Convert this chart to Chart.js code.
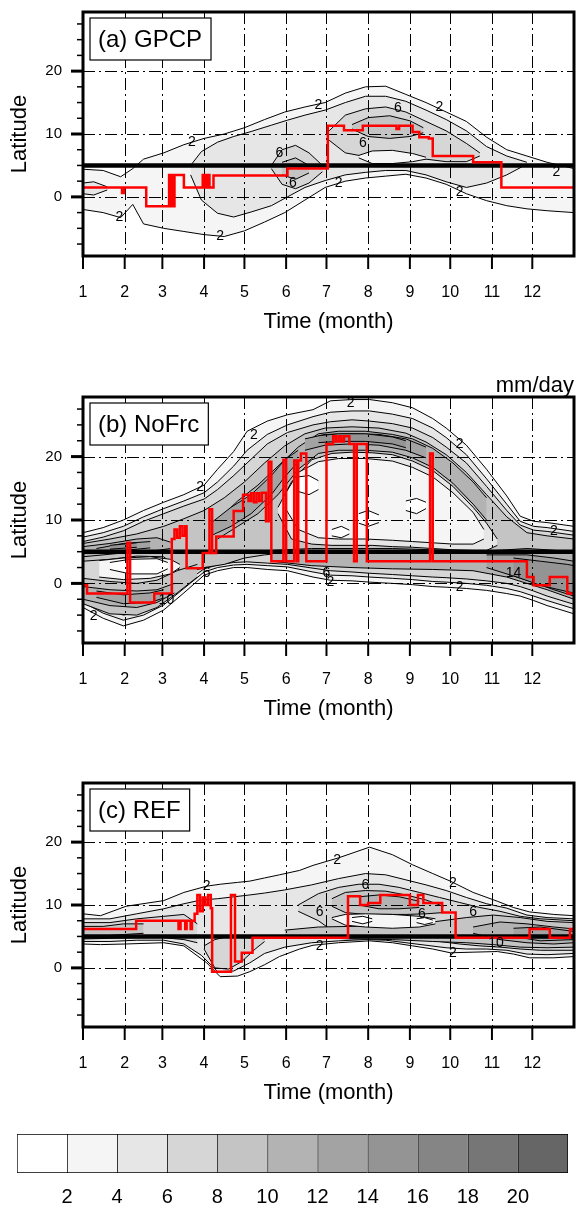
<!DOCTYPE html>
<html>
<head>
<meta charset="utf-8">
<script src="https://cdn.jsdelivr.net/npm/chart.js@4/dist/chart.umd.min.js"></script>
<style>
  body { margin: 0; background: #fff; width: 576px; height: 1208px; position: relative; overflow: hidden; }
  canvas { position: absolute; left: 0; }
</style>
</head>
<body>
<canvas id="panelA" style="top:0" width="576" height="345"></canvas>
<canvas id="panelB" style="top:345px" width="576" height="387"></canvas>
<canvas id="panelC" style="top:732px" width="576" height="384"></canvas>
<canvas id="colorBar" style="top:1116px" width="576" height="92"></canvas>
<script>
// axis ticks (x in day of year, labels are months)
var monthStart = [0, 31, 59, 90, 120, 151, 181, 212, 243, 273, 304, 334];
var monthLabels = ['1', '2', '3', '4', '5', '6', '7', '8', '9', '10', '11', '12'];
var latTicks = [0, 10, 20];
var latMinor = [-7.5, -5, -2.5, 2.5, 5, 7.5, 12.5, 15, 17.5, 22.5, 25, 27.5];
var shadeLevels = [2, 4, 6, 8, 10, 12, 14, 16, 18, 20];
var barEdges = [0, 2, 4, 6, 8, 10, 12, 14, 16, 18, 20, 22];
var shadeColors = ['#ffffff', '#f5f5f5', '#e6e6e6', '#d6d6d6', '#c4c4c4', '#b3b3b3', '#a3a3a3', '#949494', '#858585', '#767676', '#666666'];
var refLine = [[0, 5], [365, 5]];

// contour bands: [day, upper lat, lower lat]
// (a) GPCP
var gpcp2 = [[0, 4.4, -2], [15, 4.2, -2.5], [28, 3.2, -3.3], [37, 4.5, -1.2], [45, 6, -4.3], [60, 7, -5], [75, 8.3, -5.5], [90, 9.3, -6], [105, 10, -6.3], [120, 11, -5.4], [135, 12.3, -4], [150, 13.5, -2.5], [165, 14.3, -0.5], [180, 15, 1.5], [195, 16.5, 2.5], [210, 17.5, 3], [225, 17.6, 3.3], [240, 16.3, 3.6], [255, 15, 3], [270, 13.5, 2], [285, 12, 0.5], [300, 9.5, -0.6], [315, 7.5, -1.4], [330, 6.5, -1.9], [345, 5.5, -2.2], [365, 4.5, -2.5]];
var gpcp4 = [[80, 5, 3.5], [88, 7.2, -0.5], [100, 8.7, -2.6], [112, 9.6, -3.2], [125, 10.4, -2.4], [140, 11.4, -1.4], [152, 12.2, 0], [165, 13, 1.5], [180, 13.8, 2.6], [195, 15, 3.5], [210, 16, 3.9], [225, 16, 4.2], [240, 15.2, 4.2], [255, 13.8, 3.5], [270, 12.3, 2.4], [285, 10.5, 1.5], [300, 8, 2.2], [315, 6.5, 3.5], [330, 5.5, 5.2]];
var gpcp4Jan = [[0, 2.2, 0.5], [8, 2.4, 0.3], [18, 1.6, 1.1]];
var gpcp6Jun = [[140, 5, 4.5], [148, 7.5, 2], [158, 8.2, 1.3], [168, 7, 2.2], [178, 5, 4]];
var gpcp6 = [[183, 10.5, 9], [195, 13, 7], [210, 14, 6.4], [225, 14.3, 6.8], [240, 13.5, 6.5], [255, 12, 6], [270, 10.5, 5.6], [285, 8.5, 5.6], [295, 7, 6.5]];
var gpcp8Jun = [[148, 5.5, 3.5], [158, 6.2, 2.8], [168, 5, 3.8]];
var gpcp8 = [[200, 11.5, 10.8], [212, 12.6, 9.6], [228, 12.9, 9.3], [243, 12.1, 9.6], [253, 11, 10.2]];
var gpcpDry = [[205, 6.6, 6.2], [215, 7.3, 5.3], [230, 7.4, 5.3], [245, 6.9, 5.6], [255, 6.3, 6]];

// (b) NoFrc
var nofrc2 = [[0, 8, -3.8], [15, 8.8, -5.5], [30, 10, -6.7], [45, 11.5, -5.8], [60, 12.8, -4.2], [75, 14, -1.5], [90, 15.5, 1.3], [100, 18, 2], [112, 20.8, 2.5], [122, 24, 2.5], [137, 25.6, 2.2], [152, 26.6, 2], [171, 27.4, 1], [184, 28.8, 0.5], [200, 29, 0.4], [213, 29, 0.2], [230, 28.5, 0], [245, 27.7, -0.2], [260, 26, -0.5], [270, 24.5, -0.6], [285, 21.8, -0.8], [300, 18, -1.1], [315, 13.8, -1.6], [325, 10.6, -2], [335, 9.8, -2.7], [345, 9.6, -3.5], [365, 9, -4.8]];
var nofrc4 = [[0, 7.3, -3], [15, 8, -4.7], [30, 9, -5.8], [45, 10.5, -5], [60, 11.8, -3.4], [75, 13, -0.8], [90, 14.3, 1.8], [100, 16, 2.5], [112, 18.5, 2.9], [122, 21, 3], [137, 23.5, 2.8], [152, 25, 2.6], [171, 26.3, 1.8], [184, 27, 1.3], [200, 27.2, 1.2], [213, 27.2, 1], [230, 26.7, 0.8], [245, 26, 0.6], [260, 24.5, 0.3], [270, 23, 0.2], [285, 20.3, 0], [300, 16.5, -0.3], [315, 12.5, -0.8], [325, 9.8, -1.3], [335, 9, -2], [345, 8.8, -2.7], [365, 8.2, -4]];
var nofrc6 = [[0, 6.6, -2.4], [15, 7.3, -4], [30, 8.3, -5], [45, 9.8, -4.4], [60, 11, -2.6], [75, 12.2, 0], [90, 13.3, 2.3], [100, 14.8, 2.9], [112, 17, 3.3], [122, 19, 3.4], [137, 22, 3.2], [152, 23.8, 3], [171, 25, 2.4], [184, 25.5, 2], [200, 25.8, 1.8], [213, 25.6, 1.6], [230, 25.2, 1.4], [245, 24.5, 1.2], [260, 23, 1], [270, 21.5, 0.9], [285, 19, 0.7], [300, 15.3, 0.4], [315, 11.5, 0], [325, 9.2, -0.5], [335, 8.4, -1.2], [345, 8.2, -2], [365, 7.6, -3.3]];
var nofrc8North = [[0, 6.3, 3.5], [20, 7, 3.8], [40, 7.8, 4.3], [60, 9, 4.2], [75, 10.2, 1.5], [90, 11.5, 2.5], [105, 13.5, 3], [120, 16, 4], [135, 19, 4.5], [150, 21.7, 4.8], [165, 23.6, 5], [180, 24.5, 5.2], [200, 24.7, 5.2], [220, 24.5, 5], [240, 23.7, 4.8], [255, 22.3, 4.5], [270, 20.3, 4.2], [285, 17.5, 4], [300, 14, 3.5], [315, 10.5, 3], [330, 8, 2.5], [345, 7.5, 1], [365, 7, -1]];
var nofrc8South = [[0, 0.8, -3.2], [20, 0.3, -4.8], [40, 0, -5], [55, 0.5, -3.8], [70, 2, -1.5], [85, 3, 1]];
var nofrc10Jan = [[0, 5.8, 4.2], [20, 6.3, 4.6], [40, 7, 5], [55, 7.2, 5.2], [65, 6.5, 5.5]];
var nofrc10JanS = [[0, -0.5, -2.5], [20, -1, -3.5], [40, -1.2, -3.8], [55, -1, -3], [68, 0, -1.5]];
var nofrc10Edge = [[100, 10, 7], [115, 13, 9], [130, 15.5, 11], [145, 18.5, 14], [160, 21.5, 18], [175, 23.6, 20.5], [190, 24, 21], [210, 24, 21], [230, 23.5, 20.7], [245, 22.8, 19.8], [260, 21.3, 18.3], [275, 19, 15.8], [290, 16, 12.5], [300, 13.5, 10]];
var nofrc10Eq = [[140, 5.2, 3.5], [170, 5.5, 2.8], [200, 5.5, 2.5], [230, 5.5, 2.3], [260, 5.3, 2.2], [290, 5, 2], [315, 5.3, 1], [330, 5.5, 0], [345, 5.3, -1], [365, 5, -2.5]];
var nofrc12Apr = [[95, 9.5, 7.5], [110, 12, 9], [125, 14, 11], [140, 17, 14], [150, 19.5, 16.8], [160, 21, 19.2]];
var nofrc12Edge = [[165, 22.8, 21], [180, 23.5, 21.8], [200, 23.6, 22], [220, 23.5, 21.8], [240, 22.8, 21], [255, 21.5, 19.8]];
var nofrc12Eq = [[300, 4.5, 2.5], [330, 4.5, 0.5], [350, 4, -1], [365, 3.5, -2]];
var nofrc12Jan = [[10, 5.5, 4.8], [30, 6.3, 5.2], [50, 6.6, 5.6]];
var nofrc12JanS = [[10, -1.2, -2.2], [30, -1.8, -3.2], [50, -1.5, -3], [60, -1, -2.3]];
var nofrc14Edge = [[175, 23.3, 22.2], [190, 23.6, 22.4], [210, 23.6, 22.4], [230, 23.1, 22], [240, 22.5, 21.4]];
var nofrc14Eq = [[320, 4, 1.2], [340, 3.5, -0.3], [360, 3, -1.3], [365, 2.8, -1.5]];
var nofrc14Jan = [[20, 6, 5.4], [40, 6.4, 5.7]];
var nofrcDry4 = [[145, 12, 11], [155, 16, 7], [170, 19.5, 6.2], [185, 20.5, 6], [200, 20.7, 6], [215, 20.6, 6], [230, 20.3, 5.8], [245, 19.3, 5.7], [260, 17.8, 5.5], [275, 15.3, 5.3], [290, 12, 5.2], [300, 9.5, 5.2], [308, 7, 6]];
var nofrcDry2 = [[150, 14, 12], [160, 17.5, 8.5], [175, 19.2, 7.2], [190, 19.7, 7], [210, 19.7, 7], [230, 19.3, 6.8], [245, 18.3, 6.6], [260, 16.8, 6.4], [275, 14.3, 6.2], [290, 11.2, 6.2], [298, 8.5, 7]];
var nofrcDryJan = [[12, 3.6, 1], [30, 4, 0.6], [50, 4.2, 0.8], [65, 3.8, 1.5], [72, 3, 2.5]];
var nofrcWhiteJan = [[20, 3.3, 2.2], [35, 3.8, 1.5], [55, 3.9, 1.5], [63, 3.3, 2.3]];
var nofrcWhite1 = [[160, 16.8, 14.5], [168, 17, 14], [175, 16.2, 14.8]];
var nofrcWhite2 = [[205, 11, 9.5], [212, 11.5, 9], [220, 10.8, 9.6]];
var nofrcWhite3 = [[240, 13, 11.5], [248, 13.4, 11], [255, 12.8, 11.8]];
var nofrcWhite4 = [[185, 8.5, 7.5], [192, 9, 7.2], [198, 8.4, 7.8]];

// (c) REF
var ref2 = [[0, 8.6, 3.8], [13, 8.3, 3.7], [32, 9.8, 3.8], [60, 10.7, 4], [75, 12, 3.5], [92, 13, 0.8], [102, 13.3, -1.4], [115, 13.6, -1.3], [124, 13.8, -0.6], [135, 14.3, 0.5], [146, 14.8, 1.8], [161, 15.5, 3], [171, 16.3, 3.6], [190, 17.5, 4], [213, 19.2, 4.3], [230, 18, 4], [245, 16.4, 3.5], [260, 15, 3], [273, 13.8, 2.4], [290, 12, 2.5], [308, 10.6, 2.6], [320, 9.6, 2.2], [332, 8.9, 1.6], [350, 8.5, 1.6], [365, 8.3, 1.8]];
var ref4 = [[0, 7.8, 4.2], [20, 7.8, 4.2], [40, 8.6, 4.4], [60, 9.4, 4.4], [75, 10.2, 3.8], [88, 10.8, 2], [100, 11, -0.6], [112, 11.3, -0.5], [124, 11.6, 0.8], [135, 11.9, 2.3], [150, 12.4, 3.3], [170, 13.2, 4], [190, 14.2, 4.3], [210, 15, 4.5], [225, 14.8, 4.4], [240, 14, 4], [255, 13.2, 3.6], [270, 12.3, 3.2], [285, 11.2, 3], [300, 10.2, 3], [315, 9.5, 2.8], [330, 8.4, 2.2], [345, 8, 2.1], [365, 7.8, 2.3]];
var ref6Jan = [[0, 7.2, 4.6], [20, 7.2, 4.7], [40, 7.8, 4.8], [60, 8.2, 4.8], [75, 8.5, 4.5], [85, 7, 4]];
var ref6Apr = [[90, 3.5, 3], [98, 4.5, 0], [108, 5, -0.2], [118, 4.8, 1], [128, 4.8, 3], [135, 4.6, 4.2]];
var ref6 = [[160, 10, 9], [175, 11.8, 7.5], [190, 12.8, 5.2], [205, 13.3, 4.8], [220, 13.3, 4.8], [235, 12.8, 4.7], [250, 12, 4.5], [265, 11.2, 4.2], [280, 10.4, 3.8], [295, 9.6, 3.5], [310, 9, 3.3], [325, 8.2, 3], [340, 7.8, 2.8], [365, 7.5, 2.8]];
var ref8Jan = [[0, 6.6, 5], [15, 6.6, 5.1], [30, 7, 5.3], [45, 7, 5.5]];
var ref8North = [[185, 11, 9.8], [195, 12, 8.8], [210, 12.3, 8.5], [225, 12.2, 8.5], [240, 11.6, 8.5], [255, 10.8, 8.6], [268, 9.8, 8.8]];
var ref8South = [[150, 6, 5.2], [175, 6.5, 4.8], [200, 6.6, 4.6], [230, 6.8, 4.5], [260, 7.3, 4.2], [285, 8, 4], [305, 8.4, 3.7], [325, 8, 3.3], [345, 7.4, 3.2], [365, 7.2, 3.3]];
var ref10North = [[205, 11.3, 10], [220, 11.6, 9.4], [235, 11.3, 9.4], [250, 10.6, 9.6]];
var ref10Dec = [[290, 6.5, 5.5], [310, 7.3, 4.5], [330, 7, 4], [350, 6.5, 3.8], [365, 6.2, 4]];
var ref12Dec = [[320, 6.3, 5], [340, 6.5, 4.3], [365, 5.8, 4.5]];
var refDry = [[185, 8, 7.8], [195, 8.5, 6.8], [210, 8.6, 6.5], [230, 8.5, 6.3], [250, 8.2, 6.5], [262, 7.8, 7]];
var refWhite1 = [[200, 8, 7.4], [208, 8.2, 7], [215, 7.8, 7.4]];
var refWhite2 = [[248, 7.8, 7.2], [254, 8, 6.9], [260, 7.6, 7.2]];

// layering (band, contour level in mm/day), drawn first to last
var gpcpLayers = [[gpcp2, 2], [gpcp4, 4], [gpcp4Jan, 4], [gpcp6Jun, 6], [gpcp6, 6], [gpcp8Jun, 8], [gpcp8, 8], [gpcpDry, 2]];
var nofrcLayers = [[nofrc2, 2], [nofrc4, 4], [nofrc6, 6], [nofrc8North, 8], [nofrc8South, 8], [nofrc10Jan, 10], [nofrc10JanS, 10], [nofrc10Edge, 10], [nofrc10Eq, 10],
  [nofrc12Apr, 12], [nofrc12Edge, 12], [nofrc12Eq, 12], [nofrc12Jan, 12], [nofrc12JanS, 12], [nofrc14Edge, 14], [nofrc14Eq, 14], [nofrc14Jan, 14],
  [nofrcDry4, 4], [nofrcDry2, 2], [nofrcDryJan, 2], [nofrcWhiteJan, 0], [nofrcWhite1, 0], [nofrcWhite2, 0], [nofrcWhite3, 0], [nofrcWhite4, 0]];
var refLayers = [[ref2, 2], [ref4, 4], [ref6Jan, 6], [ref6Apr, 6], [ref6, 6], [ref8Jan, 8], [ref8North, 8], [ref8South, 8], [ref10North, 10], [ref10Dec, 10], [ref12Dec, 12], [refDry, 2], [refWhite1, 0], [refWhite2, 0]];

// latitude of maximum precipitation (red step line): [day, lat]
var gpcpRed = [[0, 1.5], [29, 0.6], [30.5, 1.5], [47, -1.5], [64, 3.5], [65, -1.5], [66, 3.5], [67, -1.5], [68, 3.5], [75, 1.5], [89, 3.5], [90, 1.5], [91, 3.5], [92, 1.5], [93, 3.5], [94, 1.5], [97, 3.4], [152, 4.5], [182, 11.3], [194, 10.6], [208, 11.3], [233, 10.8], [235, 11.3], [245, 10.3], [250, 9.5], [257, 9.3], [260, 6.5], [290, 5.5], [311, 1.5], [365, 1.5]];
var nofrcRed = [[0, -0.3], [3, -1.6], [33, 6.4], [35, -3], [53, -1.6], [66, 7], [68, 8.5], [70, 7.2], [72, 9], [74, 7.5], [76, 9], [77, 2.4], [89, 4.8], [94, 11.7], [96, 4.8], [99, 7.4], [112, 11.4], [119, 14], [123, 13], [125, 14.2], [127, 12.8], [129, 14.2], [131, 13], [133, 14.3], [136, 9.8], [138, 19.2], [140, 3.5], [149, 19.5], [151, 3.5], [157, 19.4], [159, 3.5], [160, 19.4], [162, 20.5], [166, 3.5], [181, 22], [186, 23.2], [188, 22.4], [190, 23.2], [192, 22.4], [194, 23.2], [198, 22], [201.5, 3.5], [203.5, 22], [211, 3.5], [258, 20.5], [260, 3.5], [330, 1], [335, -0.3], [347, 1], [360, -1.6], [365, -1.6]];
var refRed = [[0, 6.2], [39.5, 7.5], [71, 6.2], [72.5, 7.5], [76, 6.2], [77, 7.5], [80, 6.2], [81, 7.5], [83, 8.6], [85, 11.6], [87, 9], [89, 11.2], [91, 10], [93, 11.6], [95, 9.5], [96, -0.6], [110, 11.6], [113, 1], [118, 2.4], [126, 4.8], [197, 11.4], [206, 10], [212, 10.3], [221, 11.6], [243, 10], [249, 11.6], [253, 10.3], [267, 8.8], [277, 4.8], [332, 6.2], [347, 4.8], [362, 6.2], [365, 6.2]];

// contour labels: [day, lat, text]
var gpcpLabels = [[81, 8.7, '2'], [27, -3.3, '2'], [102, -6.3, '2'], [175, 14.6, '2'], [265, 14.3, '2'], [234, 14.1, '6'], [208, 8.6, '6'], [146, 7, '6'], [156, 2.2, '6'], [190, 2.2, '2'], [280, 0.8, '2'], [352, 4, '2']];
var nofrcLabels = [[199, 28.5, '2'], [127, 23.4, '2'], [87, 15.2, '2'], [8, -5.1, '2'], [184, 0.2, '2'], [280, -0.6, '2'], [280, 22, '2'], [350, 8.2, '2'], [92, 1.6, '6'], [62, -2.7, '10'], [181, 1.6, '6'], [320, 1.6, '14']];
var refLabels = [[92, 13, '2'], [210, 13.2, '6'], [189, 17.2, '2'], [275, 13.5, '2'], [252, 8.6, '6'], [290, 8.9, '6'], [176, 8.9, '6'], [176, 3.4, '2'], [275, 2.4, '2'], [307, 4, '10']];

Chart.defaults.font.family = '"Liberation Sans", Arial, sans-serif';
Chart.defaults.color = '#000';

function strokeLine(ctx, x1, y1, x2, y2) {
  ctx.beginPath();
  ctx.moveTo(x1, y1);
  ctx.lineTo(x2, y2);
  ctx.stroke();
}

// dash-dot grid over the shading, under the black and red lines
function drawGrid(chart) {
  var ctx = chart.ctx, a = chart.chartArea, xs = chart.scales.x, ys = chart.scales.y;
  ctx.save();
  ctx.strokeStyle = '#000';
  ctx.lineWidth = 1;
  ctx.setLineDash([12, 4, 2, 4]);
  monthStart.forEach(function (v) {
    if (v === 0) return;
    var px = Math.round(xs.getPixelForValue(v)) + 0.5;
    strokeLine(ctx, px, a.top, px, a.bottom);
  });
  latTicks.forEach(function (v) {
    var py = Math.round(ys.getPixelForValue(v)) + 0.5;
    strokeLine(ctx, a.left, py, a.right, py);
  });
  ctx.restore();
}

var panelDecor = {
  id: 'panelDecor',
  beforeDatasetDraw: function (chart, args) {
    if (args.index === chart.data.datasets.length - 2) drawGrid(chart);
  },
  afterDraw: function (chart, args, opts) {
    var ctx = chart.ctx, a = chart.chartArea, xs = chart.scales.x, ys = chart.scales.y;
    ctx.save();
    ctx.strokeStyle = '#000';
    // tick marks, pointing out of the frame
    ctx.lineWidth = 1.5;
    latMinor.forEach(function (v) {
      var py = ys.getPixelForValue(v);
      strokeLine(ctx, a.left - 6, py, a.left, py);
    });
    ctx.lineWidth = 3;
    latTicks.forEach(function (v) {
      var py = ys.getPixelForValue(v);
      strokeLine(ctx, a.left - 12, py, a.left, py);
    });
    ctx.lineWidth = 2;
    monthStart.forEach(function (v) {
      var px = xs.getPixelForValue(v);
      strokeLine(ctx, px, a.bottom, px, a.bottom + 13);
    });
    // contour labels
    ctx.fillStyle = '#000';
    ctx.font = '14px "Liberation Sans", Arial, sans-serif';
    ctx.textAlign = 'center';
    ctx.textBaseline = 'middle';
    opts.labels.forEach(function (l) {
      ctx.fillText(l[2], xs.getPixelForValue(l[0]), ys.getPixelForValue(l[1]));
    });
    // frame
    ctx.lineWidth = 3;
    ctx.strokeRect(a.left, a.top, a.right - a.left, a.bottom - a.top);
    // panel title box
    ctx.font = '24px "Liberation Sans", Arial, sans-serif';
    ctx.textAlign = 'left';
    var w = ctx.measureText(opts.title).width;
    ctx.fillStyle = '#fff';
    ctx.fillRect(a.left + 7, a.top + 6, w + 17, 42);
    ctx.lineWidth = 1.2;
    ctx.strokeRect(a.left + 7, a.top + 6, w + 17, 42);
    ctx.fillStyle = '#000';
    ctx.fillText(opts.title, a.left + 15, a.top + 28);
    if (opts.unit) {
      ctx.font = '22px "Liberation Sans", Arial, sans-serif';
      ctx.textAlign = 'right';
      ctx.textBaseline = 'alphabetic';
      ctx.fillText(opts.unit, a.right, a.top - 5);
    }
    ctx.restore();
  }
};

function pts(arr, k) {
  return arr.map(function (p) { return { x: p[0], y: p[k] }; });
}

function makePanel(id, layers, red, labels, title, unit, padTop) {
  var sets = [];
  layers.forEach(function (layer) {
    var color = shadeColors[layer[1] / 2];
    sets.push({ data: pts(layer[0], 1), fill: '+1', backgroundColor: color, borderColor: '#000', borderWidth: 1, pointRadius: 0 });
    sets.push({ data: pts(layer[0], 2), fill: false, borderColor: '#000', borderWidth: 1, pointRadius: 0 });
  });
  sets.push({ data: pts(refLine, 1), fill: false, borderColor: '#000', borderWidth: 4.5, pointRadius: 0 });
  sets.push({ data: pts(red, 1), fill: false, stepped: true, borderColor: '#ff0000', borderWidth: 2.5, pointRadius: 0 });
  var n = sets.length;
  sets.forEach(function (s, i) { s.order = n - i; });

  return new Chart(document.getElementById(id), {
    type: 'line',
    data: { datasets: sets },
    options: {
      responsive: false,
      animation: false,
      events: [],
      layout: { padding: { top: padTop, right: 2, left: 0, bottom: 0 } },
      plugins: {
        legend: { display: false },
        tooltip: { enabled: false },
        panelDecor: { title: title, unit: unit, labels: labels }
      },
      scales: {
        x: {
          type: 'linear', min: 0, max: 365,
          afterBuildTicks: function (s) { s.ticks = monthStart.map(function (v) { return { value: v }; }); },
          afterFit: function (s) { s.height = 89; s.paddingLeft = 0; s.paddingRight = 0; },
          ticks: { autoSkip: false, maxRotation: 0, padding: 27, font: { size: 16 },
            callback: function (v, i) { return monthLabels[i]; } },
          grid: { display: false, drawTicks: false },
          border: { display: false },
          title: { display: true, text: 'Time (month)', font: { size: 22 }, padding: { top: 0, bottom: 10 } }
        },
        y: {
          type: 'linear', min: -9.4, max: 29.4,
          afterBuildTicks: function (s) { s.ticks = latTicks.map(function (v) { return { value: v }; }); },
          afterFit: function (s) { s.width = 83; s.paddingTop = 0; s.paddingBottom = 0; },
          ticks: { padding: 21, font: { size: 15 } },
          grid: { display: false, drawTicks: false },
          border: { display: false },
          title: { display: true, text: 'Latitude', font: { size: 22 }, padding: { top: 7, bottom: 0 } }
        }
      }
    },
    plugins: [panelDecor]
  });
}

makePanel('panelA', gpcpLayers, gpcpRed, gpcpLabels, '(a) GPCP', '', 12);
makePanel('panelB', nofrcLayers, nofrcRed, nofrcLabels, '(b) NoFrc', 'mm/day', 52);
makePanel('panelC', refLayers, refRed, refLabels, '(c) REF', '', 51);

// colour bar
var barSets = shadeColors.map(function (c, i) {
  return {
    data: [[barEdges[i], barEdges[i + 1]]],
    backgroundColor: c,
    borderColor: '#000',
    borderWidth: { top: 1, bottom: 1, left: 1, right: i === shadeColors.length - 1 ? 1 : 0 },
    borderSkipped: false,
    grouped: false,
    barPercentage: 1,
    categoryPercentage: 1
  };
});
new Chart(document.getElementById('colorBar'), {
  type: 'bar',
  data: { labels: ['mm/day'], datasets: barSets },
  options: {
    indexAxis: 'y',
    responsive: false,
    animation: false,
    events: [],
    layout: { padding: { left: 17, right: 8, top: 18, bottom: 0 } },
    plugins: { legend: { display: false }, tooltip: { enabled: false } },
    scales: {
      x: {
        type: 'linear', min: 0, max: 22,
        afterBuildTicks: function (s) { s.ticks = shadeLevels.map(function (v) { return { value: v }; }); },
        afterFit: function (s) { s.height = 35; s.paddingLeft = 0; s.paddingRight = 0; },
        grid: { display: false },
        border: { display: false },
        ticks: { padding: 4, font: { size: 20 } }
      },
      y: { display: false }
    }
  }
});
</script>
</body>
</html>
